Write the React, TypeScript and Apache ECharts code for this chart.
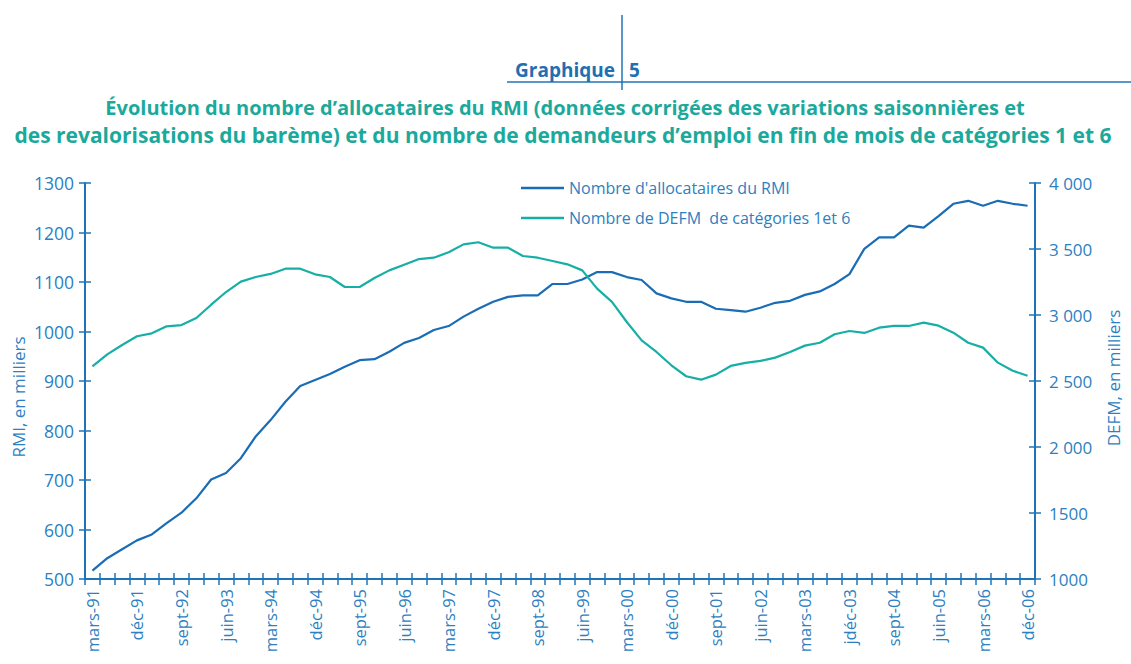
import React, { useEffect, useRef } from "react";
import * as echarts from "echarts";

const quarterMonths = ["mars", "juin", "sept", "déc"];
const yearCodes = ["91", "92", "93", "94", "95", "96", "97", "98", "99", "00", "01", "02", "03", "04", "05", "06"];
const categories: string[] = [];
yearCodes.forEach((y) => quarterMonths.forEach((m) => categories.push(`${m}-${y}`)));

const tickLabels = [
  "mars-91", "déc-91", "sept-92", "juin-93", "mars-94", "déc-94", "sept-95", "juin-96",
  "mars-97", "déc-97", "sept-98", "juin-99", "mars-00", "déc-00", "sept-01", "juin-02",
  "mars-03", "jdéc-03", "sept-04", "juin-05", "mars-06", "déc-06",
];

const rmiValues = [
  517, 542, 560, 578, 590, 613, 634, 663, 701, 714, 744, 788, 821, 858, 890, 902,
  914, 929, 942, 944, 959, 977, 987, 1003, 1011, 1030, 1046, 1060, 1070, 1073, 1073, 1096,
  1096, 1105, 1120, 1120, 1110, 1104, 1077, 1067, 1060, 1060, 1046, 1043, 1040, 1048, 1058, 1062,
  1074, 1081, 1096, 1116, 1167, 1190, 1190, 1214, 1210, 1233, 1258, 1264, 1254, 1264, 1258, 1254,
];

const defmValues = [
  2611, 2702, 2773, 2839, 2861, 2914, 2924, 2977, 3078, 3174, 3253, 3288, 3311, 3351, 3351, 3308,
  3288, 3212, 3212, 3280, 3338, 3381, 3424, 3434, 3475, 3535, 3551, 3510, 3510, 3447, 3434, 3409,
  3384, 3338, 3200, 3099, 2947, 2808, 2720, 2619, 2536, 2510, 2548, 2614, 2637, 2652, 2677, 2720,
  2768, 2790, 2854, 2879, 2864, 2904, 2917, 2917, 2942, 2919, 2866, 2790, 2753, 2639, 2578, 2540,
];

const leftTickLabels: Record<number, string> = {
  500: "500", 600: "600", 700: "700", 800: "800", 900: "900",
  1000: "1000", 1100: "1100", 1200: "1200", 1300: "1300",
};
const rightTickLabels: Record<number, string> = {
  1000: "1000", 1500: "1500", 2000: "2 000", 2500: "2 500",
  3000: "3 000", 3500: "3 500", 4000: "4 000",
};

const seriesNames = ["Nombre d'allocataires du RMI", "Nombre de DEFM  de catégories 1et 6"];
const titleLines = [
  "Évolution du nombre d’allocataires du RMI (données corrigées des variations saisonnières et",
  "des revalorisations du barème) et du nombre de demandeurs d’emploi en fin de mois de catégories 1 et 6",
];

const BLUE = "#1a6db5";
const TEAL = "#17afa5";
const AXIS = "#1f74b9";
const TEXT = "#2c7fc1";
const TITLE = "#1ba99c";
const FONT = "'Open Sans', 'Noto Sans', sans-serif";

export default function App() {
  const ref = useRef<HTMLDivElement>(null);

  useEffect(() => {
    document.body.style.margin = "0";
    if (!ref.current) return;
    const chart = echarts.init(ref.current, null, { renderer: "svg" });

    const baseX = {
      type: "category" as const,
      data: categories,
      boundaryGap: true,
      position: "bottom" as const,
    };
    const yLeft = { type: "value" as const, min: 500, max: 1300, interval: 100, position: "left" as const };
    const yRight = { type: "value" as const, min: 1000, max: 4000, interval: 500, position: "right" as const };

    chart.setOption({
      animation: false,
      textStyle: { fontFamily: FONT },
      grid: { left: 85, right: 96, top: 183, bottom: 85, containLabel: false },
      legend: {
        left: 516,
        top: 175,
        orient: "vertical",
        icon: "rect",
        itemWidth: 43,
        itemHeight: 2.5,
        itemGap: 14,
        textStyle: { color: TEXT, fontSize: 16, fontFamily: FONT },
        data: seriesNames,
        selectedMode: false,
      },
      xAxis: [
        {
          ...baseX,
          axisLine: { show: true, lineStyle: { color: AXIS, width: 2 } },
          axisTick: { show: true, interval: 0, length: 6, lineStyle: { color: AXIS, width: 1.5 } },
          axisLabel: {
            interval: 2,
            rotate: 90,
            margin: 10,
            color: TEXT,
            fontSize: 16.5,
            fontFamily: FONT,
            formatter: (_v: string, idx: number) => (idx % 3 === 0 ? tickLabels[idx / 3] : ""),
          },
          splitLine: { show: false },
        },
        {
          ...baseX,
          axisLine: { show: false },
          axisTick: { show: true, inside: true, interval: 0, length: 6, lineStyle: { color: AXIS, width: 1.5 } },
          axisLabel: { show: false },
          splitLine: { show: false },
        },
      ],
      yAxis: [
        {
          ...yLeft,
          axisLine: { show: true, lineStyle: { color: AXIS, width: 2 } },
          axisTick: { show: true, length: 6, lineStyle: { color: AXIS, width: 1.5 } },
          axisLabel: {
            color: TEXT,
            fontSize: 17.5,
            fontFamily: FONT,
            margin: 11,
            formatter: (v: number) => leftTickLabels[v] ?? String(v),
          },
          splitLine: { show: false },
        },
        {
          ...yRight,
          axisLine: { show: true, lineStyle: { color: AXIS, width: 2 } },
          axisTick: { show: true, length: 6, lineStyle: { color: AXIS, width: 1.5 } },
          axisLabel: {
            color: TEXT,
            fontSize: 17,
            fontFamily: FONT,
            margin: 14,
            formatter: (v: number) => rightTickLabels[v] ?? String(v),
          },
          splitLine: { show: false },
        },
        {
          ...yLeft,
          axisLine: { show: false },
          axisTick: { show: true, inside: true, length: 6, lineStyle: { color: AXIS, width: 1.5 } },
          axisLabel: { show: false },
          splitLine: { show: false },
        },
        {
          ...yRight,
          axisLine: { show: false },
          axisTick: { show: true, inside: true, length: 6, lineStyle: { color: AXIS, width: 1.5 } },
          axisLabel: { show: false },
          splitLine: { show: false },
        },
      ],
      series: [
        {
          name: seriesNames[0],
          type: "line",
          xAxisIndex: 0,
          yAxisIndex: 0,
          data: rmiValues,
          symbol: "none",
          lineStyle: { color: BLUE, width: 2.2 },
          itemStyle: { color: BLUE },
        },
        {
          name: seriesNames[1],
          type: "line",
          xAxisIndex: 0,
          yAxisIndex: 1,
          data: defmValues,
          symbol: "none",
          lineStyle: { color: TEAL, width: 2.2 },
          itemStyle: { color: TEAL },
        },
      ],
      graphic: [
        { type: "line", shape: { x1: 507, y1: 82, x2: 1131, y2: 82 }, style: { stroke: AXIS, lineWidth: 1.5 } },
        { type: "line", shape: { x1: 622, y1: 15, x2: 622, y2: 90 }, style: { stroke: AXIS, lineWidth: 1.5 } },
        {
          type: "text",
          x: 615,
          y: 70,
          style: { text: "Graphique", fill: "#1f6fb2", font: `bold 19px ${FONT}`, textAlign: "right", textVerticalAlign: "middle" },
        },
        {
          type: "text",
          x: 629,
          y: 70,
          style: { text: "5", fill: "#1f6fb2", font: `bold 19px ${FONT}`, textAlign: "left", textVerticalAlign: "middle" },
        },
        {
          type: "text",
          x: 565,
          y: 107,
          style: { text: titleLines[0], fill: TITLE, font: `bold 20px ${FONT}`, textAlign: "center", textVerticalAlign: "middle" },
        },
        {
          type: "text",
          x: 563,
          y: 135,
          style: { text: titleLines[1], fill: TITLE, font: `bold 21px ${FONT}`, textAlign: "center", textVerticalAlign: "middle" },
        },
        {
          type: "text",
          x: 18,
          y: 397,
          rotation: Math.PI / 2,
          style: { text: "RMI, en milliers", fill: TEXT, font: `17px ${FONT}`, textAlign: "center", textVerticalAlign: "middle" },
        },
        {
          type: "text",
          x: 1113,
          y: 378,
          rotation: Math.PI / 2,
          style: { text: "DEFM, en milliers", fill: TEXT, font: `17px ${FONT}`, textAlign: "center", textVerticalAlign: "middle" },
        },
      ],
    });

    return () => chart.dispose();
  }, []);

  return <div ref={ref} style={{ width: 1131, height: 664 }} />;
}
